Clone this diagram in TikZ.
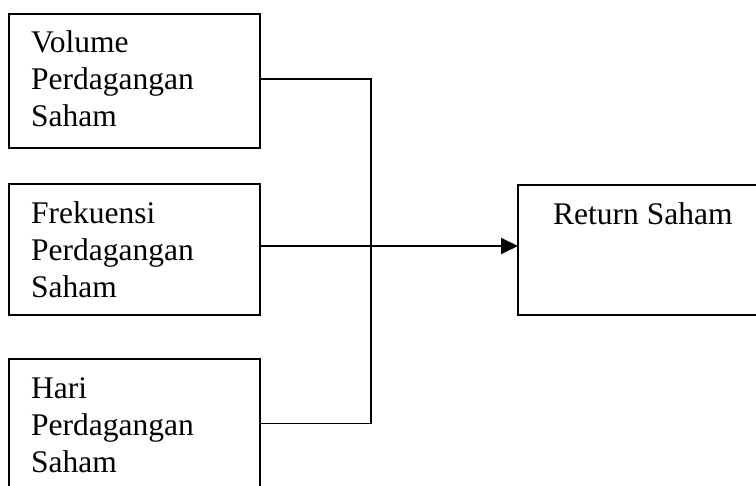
\documentclass[tikz,border=0pt]{standalone}
\usepackage{fontspec}
\setmainfont{Liberation Serif}
\usetikzlibrary{arrows.meta}
\begin{document}
\begin{tikzpicture}[x=1pt,y=-1pt,
  box/.style={draw,line width=1.9pt,rectangle,inner sep=0pt,outer sep=0pt,anchor=north west},
  lbl/.style={anchor=base west,inner sep=0pt,font=\fontsize{31.5}{37}\selectfont},
  conn/.style={line width=1.9pt}]
\useasboundingbox (0,0) rectangle (756,486);
\node[box,minimum width=251pt,minimum height=134pt] (b1) at (9,14) {};
\node[box,minimum width=251pt,minimum height=131pt] (b2) at (9,184) {};
\node[box,minimum width=251pt,minimum height=134pt] (b3) at (9,359) {};
\node[box,minimum width=242pt,minimum height=130pt] (r) at (518,185) {};
\node[lbl] (t1) at (31,53) {\begin{tabular}[t]{@{}l@{}}Volume\\Perdagangan\\Saham\end{tabular}};
\node[lbl] (t2) at (31,224) {\begin{tabular}[t]{@{}l@{}}Frekuensi\\Perdagangan\\Saham\end{tabular}};
\node[lbl] (t3) at (31,399) {\begin{tabular}[t]{@{}l@{}}Hari\\Perdagangan\\Saham\end{tabular}};
\node[lbl] (t4) at (553,225) {Return Saham};
\coordinate (j) at (371,246);
\draw[conn] ([yshift=2pt]b1.east) -| (j);
\draw[conn] ([yshift=2.5pt]b3.east) -| (j);
\draw[conn] ([yshift=3.5pt]b2.east) -- (j);
\draw[conn,-{Triangle[length=17pt,width=16pt]}] (j) -- (r.west |- j);
\end{tikzpicture}
\end{document}
